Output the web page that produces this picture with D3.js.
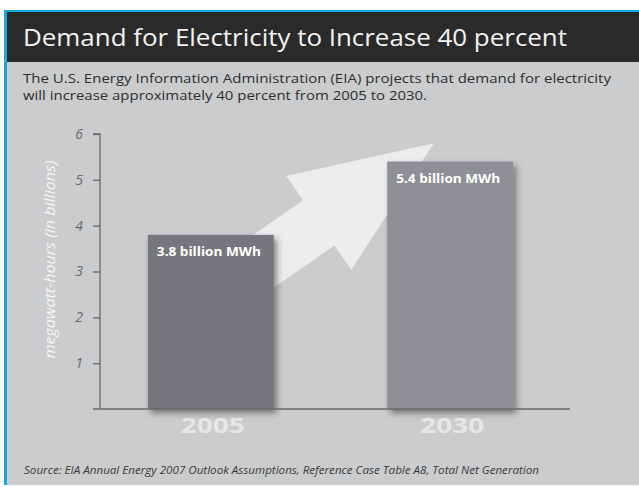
<!DOCTYPE html>
<html>
<head>
<meta charset="utf-8">
<script src="https://cdn.jsdelivr.net/npm/d3@7"></script>
<style>
  html, body { margin: 0; padding: 0; background: #ffffff; }
  svg { display: block; }
</style>
</head>
<body>
<svg id="chart" width="639" height="487"></svg>
<script>
// ---- data ----
const categories = ["2005", "2030"];
const values = [3.8, 5.4];
const barLabels = ["3.8 billion MWh", "5.4 billion MWh"];
const yTicks = [1, 2, 3, 4, 5, 6];
const titleText = "Demand for Electricity to Increase 40 percent";
const subtitleLines = [
  "The U.S. Energy Information Administration (EIA) projects that demand for electricity",
  "will increase approximately 40 percent from 2005 to 2030."
];
const yAxisTitle = "megawatt-hours (in billions)";
const sourceText = "Source: EIA Annual Energy 2007 Outlook Assumptions, Reference Case Table A8, Total Net Generation";

const svg = d3.select("#chart");
const font = "'Open Sans', 'DejaVu Sans', sans-serif";

// filter for bar shadow
const defs = svg.append("defs");
const f = defs.append("filter").attr("id", "shadow")
  .attr("x", "-20%").attr("y", "-20%").attr("width", "140%").attr("height", "140%");
f.append("feDropShadow").attr("dx", 3).attr("dy", 4).attr("stdDeviation", 3)
  .attr("flood-color", "#2a2a2a").attr("flood-opacity", 0.55);

// panel background
svg.append("rect").attr("x", 4).attr("y", 10).attr("width", 635).attr("height", 475).attr("fill", "#17a6e2");
svg.append("rect").attr("x", 7).attr("y", 12).attr("width", 632).attr("height", 473).attr("fill", "#cbcccd");
svg.append("rect").attr("x", 7).attr("y", 12).attr("width", 632).attr("height", 50).attr("fill", "#2b2a2a");

// title
svg.append("text").attr("x", 23).attr("y", 46)
  .attr("font-family", font).attr("font-size", 24).attr("fill", "#f2f2f2")
  .attr("textLength", 544).attr("lengthAdjust", "spacingAndGlyphs")
  .text(titleText);

// subtitle
const subW = [588, 404];
svg.selectAll("text.sub").data(subtitleLines).join("text").attr("class", "sub")
  .attr("x", 23).attr("y", (d, i) => 83 + i * 17)
  .attr("font-family", font).attr("font-size", 13).attr("fill", "#2e2e2e")
  .attr("textLength", (d, i) => subW[i]).attr("lengthAdjust", "spacingAndGlyphs")
  .text(d => d);

// scales
const y = d3.scaleLinear().domain([0, 6]).range([409, 134]);
const x = d3.scaleBand().domain(categories).range([100, 561]).paddingInner(0.474).paddingOuter(0.2);
const bw = x.bandwidth();

// arrow (decorative), positioned from the scales
const tip = [x(categories[1]) + 0.37 * bw, y(5.8)];
const u = [0.822, -0.570], n = [0.570, 0.822];
const headLen = 140, headHalf = 57, shaftHalf = 27.5, tailLen = 165;
const M = [tip[0] - headLen * u[0], tip[1] - headLen * u[1]];
const P = (base, a, v) => [base[0] + a * v[0], base[1] + a * v[1]];
const T = P(M, -tailLen, u);
const arrowPts = [
  tip,
  P(M, -headHalf, n),
  P(M, -shaftHalf, n),
  P(T, -shaftHalf, n),
  P(T, shaftHalf, n),
  P(M, shaftHalf, n),
  P(M, headHalf, n)
];
svg.append("path").attr("d", d3.line()(arrowPts) + "Z").attr("fill", "#ededed");

// y axis
const yAxis = d3.axisLeft(y).tickValues(yTicks).tickSize(7).tickPadding(10).tickFormat(d3.format("d"));
const gy = svg.append("g").attr("transform", "translate(100,0)").call(yAxis);
gy.select(".domain").attr("stroke", "#6a6a6a").attr("stroke-width", 1.3).attr("d", `M-7,${y(6)}H0V${y(0)}`);
gy.selectAll(".tick line").attr("stroke", "#6a6a6a").attr("stroke-width", 1.3);
gy.selectAll(".tick text").attr("font-family", font).attr("font-style", "italic")
  .attr("font-size", 14).attr("fill", "#6b6b6d");

// y axis title
svg.append("text")
  .attr("transform", `translate(55,${(y(0) + y(6)) / 2 - 12}) rotate(-90)`)
  .attr("text-anchor", "middle")
  .attr("font-family", font).attr("font-style", "italic").attr("font-size", 15)
  .attr("fill", "#f5f5f5")
  .attr("textLength", 198).attr("lengthAdjust", "spacingAndGlyphs")
  .text(yAxisTitle);

// bars
const barColors = ["#76777a", "#8f9093"];
svg.selectAll("rect.bar").data(values).join("rect").attr("class", "bar")
  .attr("x", (d, i) => x(categories[i]))
  .attr("y", d => y(d))
  .attr("width", bw)
  .attr("height", d => y(0) - y(d))
  .attr("fill", (d, i) => barColors[i])
  .attr("filter", "url(#shadow)");

// baseline
svg.append("line").attr("x1", 93).attr("x2", 570).attr("y1", y(0)).attr("y2", y(0))
  .attr("stroke", "#6a6a6a").attr("stroke-width", 1.3);

// bar value labels
svg.selectAll("text.val").data(values).join("text").attr("class", "val")
  .attr("x", (d, i) => x(categories[i]) + 9)
  .attr("y", d => y(d) + 21)
  .attr("font-family", font).attr("font-weight", "bold").attr("font-size", 12.5)
  .attr("fill", "#ffffff")
  .attr("textLength", 104).attr("lengthAdjust", "spacingAndGlyphs")
  .text((d, i) => barLabels[i]);

// category labels
svg.selectAll("text.cat").data(categories).join("text").attr("class", "cat")
  .attr("x", d => x(d) + bw / 2 + 2)
  .attr("y", 433)
  .attr("text-anchor", "middle")
  .attr("font-family", font).attr("font-weight", "bold").attr("font-size", 22)
  .attr("fill", "#e6e6e6")
  .attr("textLength", 64).attr("lengthAdjust", "spacingAndGlyphs")
  .text(d => d);

// source
svg.append("text").attr("x", 24).attr("y", 474)
  .attr("font-family", font).attr("font-style", "italic").attr("font-size", 10.5)
  .attr("fill", "#3a3a3a")
  .attr("textLength", 515).attr("lengthAdjust", "spacingAndGlyphs")
  .text(sourceText);
</script>
</body>
</html>
